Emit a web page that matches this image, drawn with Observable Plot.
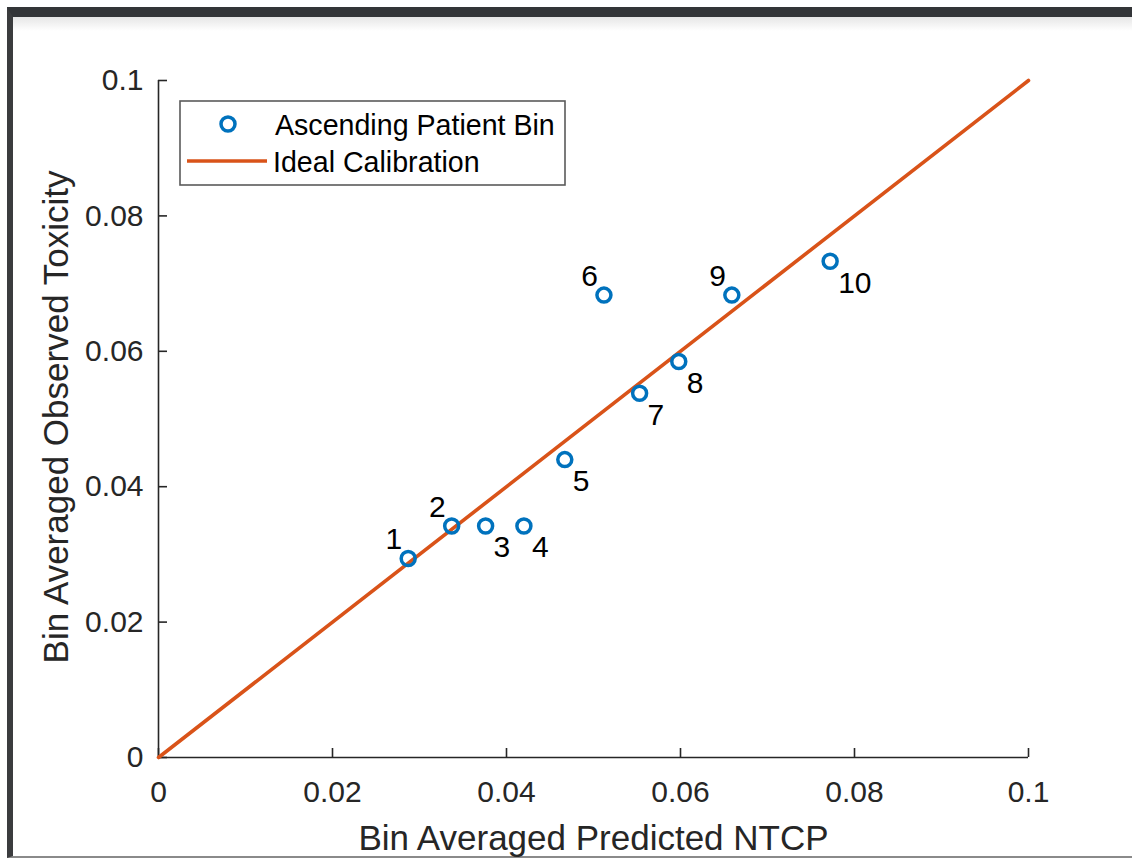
<!DOCTYPE html>
<html><head><meta charset="utf-8">
<script src="https://cdn.jsdelivr.net/npm/d3@7"></script>
<script src="https://cdn.jsdelivr.net/npm/@observablehq/plot@0.6"></script>
<style>
html,body{margin:0;padding:0;background:#fff;width:1132px;height:859px;overflow:hidden;}
#frame{position:absolute;left:7px;top:7px;width:1125px;height:851px;box-sizing:border-box;border-top:10px solid #333538;border-left:6px solid #3b3c3e;border-bottom:2px solid #8a8a8a;background:linear-gradient(#e6e6e6 0px,#ffffff 14px);}
#chart{position:absolute;left:0;top:0;}
#legend{position:absolute;left:179px;top:100px;font-family:"Liberation Sans",Arial,Helvetica,sans-serif;}
</style></head><body>
<div id="frame"></div>
<div id="chart"></div>
<svg id="legend" width="388" height="87">
  <rect x="1" y="1" width="385" height="84" fill="#fff" stroke="#5a5a5a" stroke-width="1.6"></rect>
  <circle cx="49" cy="24" r="7" fill="none" stroke="#0072BD" stroke-width="3.5"></circle>
  <line x1="8" x2="88" y1="61" y2="61" stroke="#D95319" stroke-width="3.5"></line>
  <text x="96" y="35" font-size="28.6" fill="#000">Ascending Patient Bin</text>
  <text x="94" y="72" font-size="28.6" fill="#000">Ideal Calibration</text>
</svg>
<script>
// ---- data ----
const binIds = [1, 2, 3, 4, 5, 6, 7, 8, 9, 10];
const predicted = [0.0287, 0.0337, 0.0376, 0.0420, 0.0467, 0.0512, 0.0553, 0.0598, 0.0659, 0.0772];
const observed  = [0.0294, 0.0342, 0.0342, 0.0342, 0.0440, 0.0683, 0.0538, 0.0585, 0.0683, 0.0733];
const idealX = [0, 0.1];
const idealY = [0, 0.1];
const xTicks = [0, 0.02, 0.04, 0.06, 0.08, 0.1];
const xTickLabels = ["0", "0.02", "0.04", "0.06", "0.08", "0.1"];
const yTicks = [0, 0.02, 0.04, 0.06, 0.08, 0.1];
const yTickLabels = ["0", "0.02", "0.04", "0.06", "0.08", "0.1"];
const xLabel = "Bin Averaged Predicted NTCP";
const yLabel = "Bin Averaged Observed Toxicity";

const points = binIds.map((id, i) => ({id, x: predicted[i], y: observed[i]}));
const ideal = idealX.map((x, i) => ({x, y: idealY[i]}));
const upperLeft = new Set([1, 2, 6, 9]);

const font = '"Liberation Sans", Arial, Helvetica, sans-serif';
const axisColor = "#262626";

const plot = Plot.plot({
  width: 1132,
  height: 859,
  marginLeft: 158,
  marginRight: 104,
  marginTop: 80,
  marginBottom: 102,
  style: {background: "transparent", fontFamily: font, fontSize: "30px", color: axisColor, overflow: "visible"},
  x: {domain: [0, 0.1]},
  y: {domain: [0, 0.1]},
  marks: [
    Plot.axisX({ticks: xTicks, tickFormat: (d, i) => xTickLabels[i], tickSize: -9, tickPadding: 32, label: null, strokeWidth: 1.6}),
    Plot.axisY({ticks: yTicks, tickFormat: (d, i) => yTickLabels[i], tickSize: -9, tickPadding: 24, label: null, strokeWidth: 1.6}),
    Plot.ruleX([0], {stroke: axisColor, strokeWidth: 1.6}),
    Plot.ruleY([0], {stroke: axisColor, strokeWidth: 1.6}),
    Plot.text([xLabel], {frameAnchor: "bottom", textAnchor: "middle", lineAnchor: "bottom", dy: 92, fontSize: 35, fill: axisColor}),
    Plot.text([yLabel], {frameAnchor: "left", textAnchor: "middle", lineAnchor: "bottom", rotate: -90, dx: -91, dy: -2, fontSize: 35, fill: axisColor}),
    Plot.line(ideal, {x: "x", y: "y", stroke: "#D95319", strokeWidth: 3.6}),
    Plot.dot(points, {x: "x", y: "y", r: 7, stroke: "#0072BD", strokeWidth: 3.5, fill: "none"}),
    Plot.text(points.filter(d => upperLeft.has(d.id)), {x: "x", y: "y", text: d => String(d.id), textAnchor: "end", lineAnchor: "bottom", dx: -6, dy: -9, fontSize: 30, fill: "#000"}),
    Plot.text(points.filter(d => !upperLeft.has(d.id)), {x: "x", y: "y", text: d => String(d.id), textAnchor: "start", lineAnchor: "top", dx: 8, dy: 10, fontSize: 30, fill: "#000"})
  ]
});
document.getElementById("chart").appendChild(plot);
</script>
</body></html>
